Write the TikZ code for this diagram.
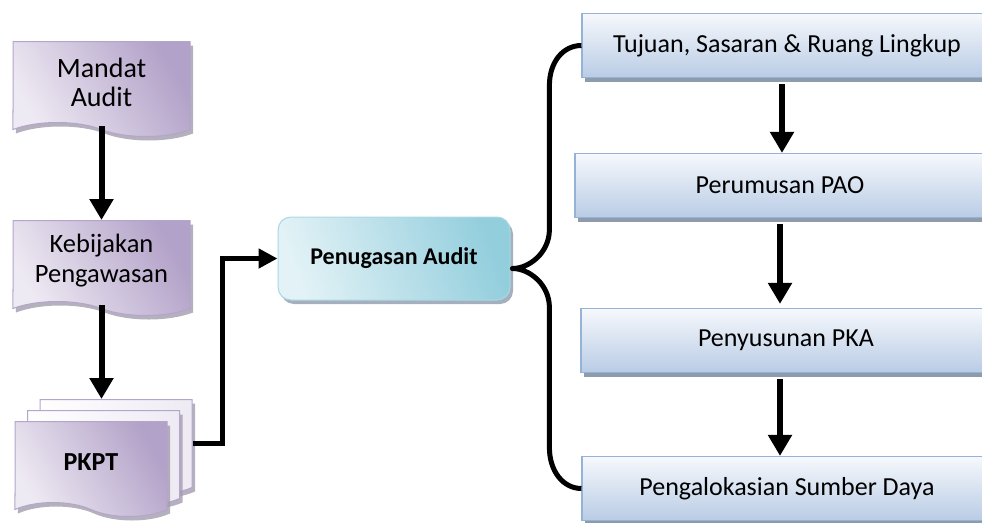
\documentclass[tikz,border=0pt]{standalone}
\usepackage{fontspec}
\setmainfont{Carlito}
\usetikzlibrary{shapes.symbols,shadows,arrows.meta}

\definecolor{lavlight}{HTML}{EEEAF3}
\definecolor{lavdark}{HTML}{B2A1C8}
\definecolor{lavline}{HTML}{B3A5CB}
\definecolor{lavshadow}{HTML}{A39CAD}
\definecolor{bluelight}{HTML}{F6F8FC}
\definecolor{bluedark}{HTML}{B9CCE5}
\definecolor{blueline}{HTML}{95B3D7}
\definecolor{blueshadow}{HTML}{8E9BAD}
\definecolor{cyanlight}{HTML}{E2F2F6}
\definecolor{cyandark}{HTML}{93CEDD}
\definecolor{cyanline}{HTML}{A9D8E4}

\tikzset{
  doc/.style={shape=tape, tape bend top=none, tape bend bottom=out and in,
    tape bend height=14pt, draw=lavline, line width=1pt,
    left color=lavlight, right color=lavdark, shading angle=120,
    drop shadow={shadow xshift=3pt, shadow yshift=-4pt, fill=lavshadow, opacity=.8},
    minimum width=177pt, minimum height=95pt, inner sep=0pt, align=center,
    font=\fontsize{28pt}{29pt}\selectfont},
  sheet/.style={doc, left color=white, right color=lavlight, shading angle=90,
    minimum width=152pt},
  stepbox/.style={rectangle, draw=blueline, line width=1.2pt,
    top color=bluelight, bottom color=bluedark,
    drop shadow={shadow xshift=3pt, shadow yshift=-4pt, fill=blueshadow, opacity=1},
    minimum width=410pt, minimum height=64pt, inner sep=0pt,
    font=\fontsize{26pt}{30pt}\selectfont},
  taskbox/.style={rectangle, rounded corners=13pt, draw=cyanline, line width=1pt,
    left color=cyanlight, right color=cyandark, shading angle=110,
    drop shadow={shadow xshift=3pt, shadow yshift=-4pt, fill=blueshadow, opacity=.8},
    minimum width=232pt, minimum height=83pt, inner sep=0pt,
    font=\bfseries\fontsize{24pt}{28pt}\selectfont},
  flow/.style={line width=6pt, -{Triangle[width=23pt,length=21pt]}},
  link/.style={line width=5pt, -{Triangle[width=19pt,length=19pt]}},
  brace/.style={line width=5pt, line join=round}
}

\begin{document}
\begin{tikzpicture}[x=1pt, y=-1pt]
  \useasboundingbox (0,0) rectangle (982,522);

  % left column
  \node[doc] (mandat) at (101.5,82) {Mandat\\Audit};
  \node[doc, font=\fontsize{26.5pt}{30pt}\selectfont] (kebijakan) at (101.5,261) {Kebijakan\\Pengawasan};
  \node[sheet] (pkptb) at (116,440) {};
  \node[sheet] (pkptm) at (103.5,451) {};
  \node[doc, minimum width=152pt, font=\bfseries\fontsize{26pt}{32pt}\selectfont] (pkpt) at (91,462) {PKPT};

  % middle
  \node[taskbox] (tugas) at (394,258.5) {Penugasan Audit};

  % right column
  \node[stepbox] (tujuan) at (787,45.5) {Tujuan, Sasaran \& Ruang Lingkup};
  \node[stepbox] (pao) at (780,185.5) {Perumusan PAO};
  \node[stepbox] (pka) at (786,340.5) {Penyusunan PKA};
  \node[stepbox] (sumber) at (787,488.5) {Pengalokasian Sumber Daya};

  % connectors
  \draw[flow] ([yshift=-3pt]mandat.south) -- (kebijakan.north);
  \draw[flow] ([yshift=-3pt]kebijakan.south) -- (kebijakan.south |- pkptb.north);
  \draw[link] ([yshift=-3pt]pkptb.east) -- ++(30,0) |- (tugas.west);

  \draw[flow] ([xshift=-5pt,yshift=-6pt]tujuan.south) -- ([xshift=2pt]pao.north);
  \draw[flow] ([yshift=-6pt]pao.south) -- ([xshift=-6pt,yshift=4pt]pka.north);
  \draw[flow] ([xshift=-6pt,yshift=-6pt]pka.south) -- ([xshift=-7pt]sumber.north);

  % brace
  \draw[brace] (tujuan.west) .. controls +(-18,0) and +(0,-24) .. ++(-32,40)
    -- ++(0,144) .. controls +(0,23) and +(17,0) .. ++(-37,39)
    .. controls +(17,0) and +(0,-23) .. ++(37,39)
    -- ++(0,140) .. controls +(0,24) and +(-18,0) .. (sumber.west);
\end{tikzpicture}
\end{document}
